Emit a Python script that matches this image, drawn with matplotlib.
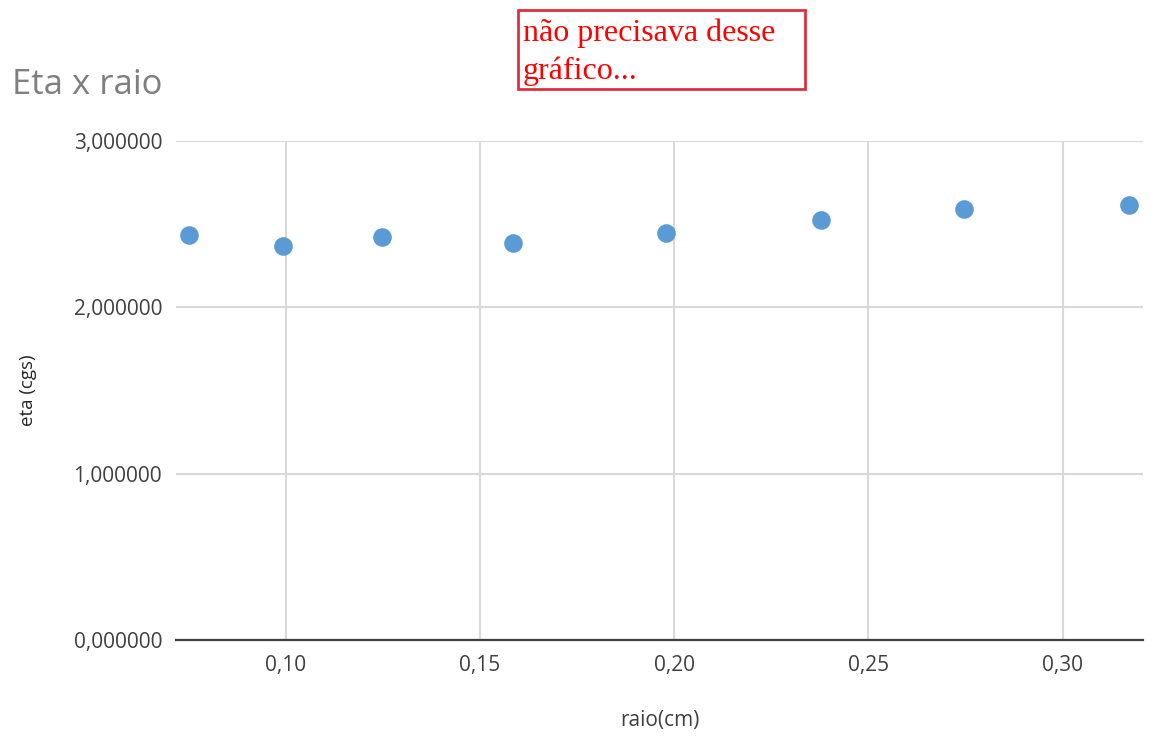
import matplotlib
matplotlib.use('Agg')
import matplotlib.pyplot as plt
from matplotlib.ticker import FuncFormatter, MultipleLocator
from matplotlib.patches import Rectangle

# data
raio = [0.0750, 0.0993, 0.1248, 0.1585, 0.1979, 0.2378, 0.2747, 0.3171]
eta = [2.436, 2.369, 2.423, 2.386, 2.450, 2.528, 2.592, 2.616]

plt.rcParams['font.family'] = ['Open Sans', 'DejaVu Sans']

fig = plt.figure(figsize=(11.51, 7.43), dpi=100)
ax = fig.add_axes([0.1529, 0.1386, 0.8401, 0.6716])

ax.scatter(raio, eta, s=180, color='#5b9bd5', zorder=3, linewidths=0)

ax.set_xlim(0.0717, 0.3207)
ax.set_ylim(0, 3)
ax.xaxis.set_major_locator(MultipleLocator(0.05))
ax.yaxis.set_major_locator(MultipleLocator(1))
ax.xaxis.set_major_formatter(FuncFormatter(lambda v, p: f'{v:.2f}'.replace('.', ',')))
ax.yaxis.set_major_formatter(FuncFormatter(lambda v, p: f'{v:.6f}'.replace('.', ',')))

ax.grid(True, color='#d9d9d9', linewidth=1.5)
ax.set_axisbelow(True)
for s in ['left', 'right', 'top']:
    ax.spines[s].set_visible(False)
ax.spines['bottom'].set_color('#404040')
ax.spines['bottom'].set_linewidth(1.6)
ax.spines['bottom'].set_zorder(4)
ax.tick_params(length=0, labelsize=15, labelcolor='#404040')
ax.tick_params(axis='x', pad=11)
ax.tick_params(axis='y', pad=10)

ax.set_xlabel('raio(cm)', fontsize=15, color='#404040', labelpad=24)
ax.set_ylabel('eta (cgs)', fontsize=13.5, color='#262626', labelpad=26)

fig.text(12 / 1151, 1 - 85 / 743, 'Eta x raio', fontsize=25, color='#7f7f7f',
         ha='left', va='center')

# red note box
fig.patches.append(Rectangle((518 / 1151, 1 - 89 / 743), 287 / 1151, 79 / 743,
                             transform=fig.transFigure, fill=False,
                             edgecolor='#e0303f', linewidth=2))
fig.text(523 / 1151, 1 - 52.5 / 743, 'não precisava desse\ngráfico...',
         fontsize=23, color='red', family='Liberation Serif',
         ha='left', va='center', linespacing=1.4)

fig.savefig('out.png', dpi=100)
